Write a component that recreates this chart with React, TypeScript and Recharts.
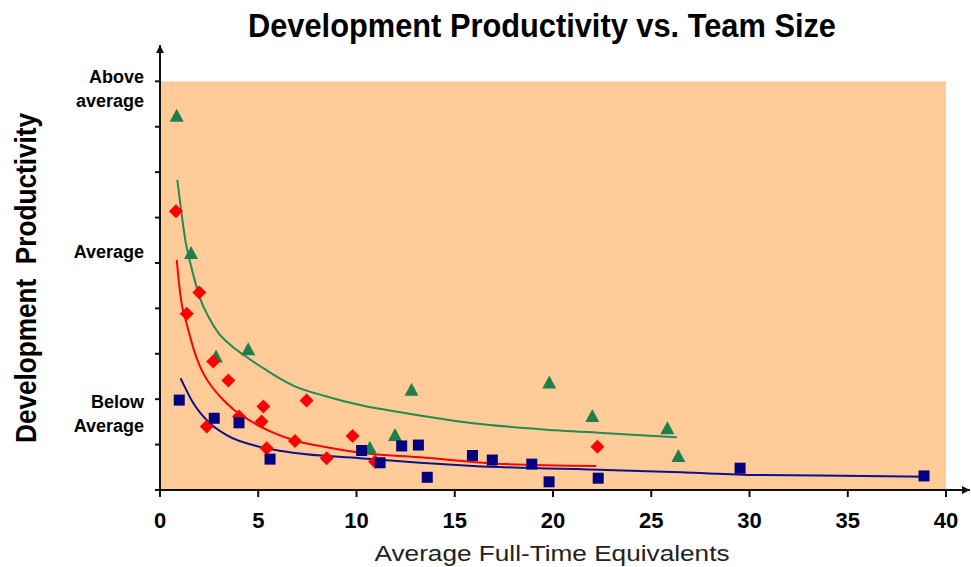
import { ComposedChart, Line, Scatter, XAxis, YAxis, ReferenceArea } from 'recharts';

document.body.style.margin = '0';

// ---- data ----
const greenX = [0.85, 1.58, 2.85, 4.49, 10.68, 11.96, 12.8, 19.81, 22.0, 25.82, 26.38];
const greenY = [8.24, 5.22, 2.94, 3.1, 0.93, 1.21, 2.21, 2.37, 1.63, 1.36, 0.75];

const redX = [0.81, 1.36, 2.0, 2.38, 2.71, 3.48, 4.02, 5.17, 5.26, 5.43, 6.87, 7.46, 8.48, 9.8, 10.94, 22.26];
const redY = [6.14, 3.88, 4.35, 1.4, 2.83, 2.41, 1.62, 1.51, 1.84, 0.92, 1.08, 1.97, 0.7, 1.19, 0.62, 0.95];

const blueX = [0.98, 2.76, 4.02, 5.6, 10.26, 11.2, 12.3, 13.15, 13.6, 15.9, 16.91, 18.92, 19.8, 22.3, 29.52, 38.88];
const blueY = [1.98, 1.58, 1.48, 0.68, 0.87, 0.6, 0.97, 0.99, 0.28, 0.76, 0.66, 0.57, 0.18, 0.26, 0.48, 0.31];

const greenTrendX = [0.88, 1.1, 1.31, 1.53, 1.78, 2.04, 2.46, 2.97, 3.65, 4.33, 5.34, 6.78, 8.48, 10.18, 12.55, 15.94, 19.34, 22.73, 26.3];
const greenTrendY = [6.83, 6.08, 5.45, 5.02, 4.6, 4.22, 3.82, 3.46, 3.17, 2.95, 2.66, 2.3, 2.06, 1.87, 1.69, 1.47, 1.34, 1.25, 1.16];

const redTrendX = [0.85, 0.97, 1.1, 1.31, 1.53, 1.78, 2.12, 2.63, 3.14, 3.73, 4.24, 5.09, 6.78, 8.48, 10.18, 13.23, 17.64, 22.2];
const redTrendY = [5.07, 4.55, 4.11, 3.74, 3.38, 3.01, 2.64, 2.28, 2.02, 1.78, 1.62, 1.4, 1.1, 0.94, 0.82, 0.72, 0.57, 0.53];

const blueTrendX = [1.05, 1.7, 2.54, 3.39, 5.09, 6.78, 10.18, 13.23, 15.94, 22.73, 26.5, 30.4, 35.8, 39.1];
const blueTrendY = [2.46, 1.91, 1.47, 1.21, 0.95, 0.82, 0.7, 0.6, 0.53, 0.44, 0.39, 0.33, 0.31, 0.29];

const xTicks = [0, 5, 10, 15, 20, 25, 30, 35, 40];
const yTicks = [0, 1, 2, 3, 4, 5, 6, 7, 8, 9];
const yLabelValues = [9, 5, 2];
const yLabelTexts = [['Above', 'average'], ['Average'], ['Below', 'Average']];

const title = 'Development Productivity vs. Team Size';
const xTitle = 'Average Full-Time Equivalents';
const yTitle = 'Development  Productivity';

const zip = (xs: number[], ys: number[]) => xs.map((x, i) => ({ x, y: ys[i] }));

const greenPts = zip(greenX, greenY);
const redPts = zip(redX, redY);
const bluePts = zip(blueX, blueY);
const greenTrend = zip(greenTrendX, greenTrendY);
const redTrend = zip(redTrendX, redTrendY);
const blueTrend = zip(blueTrendX, blueTrendY);

const FONT = '"Liberation Sans", Arial, Helvetica, sans-serif';
const AXIS = '#111';
const COLORS = {
  bg: '#FFCC99',
  green: '#1E7E4C',
  greenLine: '#228B55',
  red: '#FF0000',
  blue: '#000080',
  blueLine: '#10108A',
};

// baseline shift of the first line relative to the tick, per tick value
const Y_LABEL_SHIFT: Record<number, number> = { 9: 2, 5: -5, 2: 9 };

function YTick(props: any) {
  const { x, y, payload } = props;
  const idx = yLabelValues.indexOf(payload.value);
  if (idx < 0) return null;
  const lines = yLabelTexts[idx];
  const shift = Y_LABEL_SHIFT[payload.value] ?? 0;
  return (
    <text x={x} y={y + shift} textAnchor="end" fontFamily={FONT} fontWeight="bold" fontSize={18} fill="#000">
      {lines.map((l, i) => (
        <tspan key={i} x={x} dy={i === 0 ? 0 : 23.4}>{l}</tspan>
      ))}
    </text>
  );
}

function XTick(props: any) {
  const { x, y, payload } = props;
  return (
    <text x={x} y={y + 31} textAnchor="middle" fontFamily={FONT} fontWeight="bold" fontSize={22} fill="#000">
      {payload.value}
    </text>
  );
}

const Triangle = (p: any) => (
  <path d={`M${p.cx},${p.cy - 7} L${p.cx + 7},${p.cy + 6} L${p.cx - 7},${p.cy + 6} Z`} fill={COLORS.green} />
);
const Diamond = (p: any) => (
  <path d={`M${p.cx},${p.cy - 7} L${p.cx + 7},${p.cy} L${p.cx},${p.cy + 7} L${p.cx - 7},${p.cy} Z`} fill={COLORS.red} />
);
const Square = (p: any) => (
  <rect x={p.cx - 5.5} y={p.cy - 5.5} width={11} height={11} fill={COLORS.blue} />
);

export default function App() {
  return (
    <div style={{ position: 'relative', width: 971, height: 567, background: '#fff' }}>
      <svg width={0} height={0} style={{ position: 'absolute' }}>
        <defs>
          <marker id="axisArrow" viewBox="0 0 10 10" refX={10} refY={5} markerWidth={10} markerHeight={8}
            markerUnits="userSpaceOnUse" orient="auto-start-reverse">
            <path d="M0,0 L10,5 L0,10 Z" fill={AXIS} />
          </marker>
        </defs>
      </svg>

      <ComposedChart width={971} height={567} margin={{ top: 45, right: 1, left: 0, bottom: 0 }}>
        <ReferenceArea x1={0} x2={40} y1={0} y2={9} fill={COLORS.bg} fillOpacity={1} stroke="none" ifOverflow="hidden" />

        <XAxis
          type="number"
          dataKey="x"
          domain={[0, 41.22]}
          ticks={xTicks}
          interval={0}
          allowDataOverflow
          height={77}
          tickSize={7}
          tickMargin={0}
          axisLine={{ stroke: AXIS, strokeWidth: 2, markerEnd: 'url(#axisArrow)' }}
          tickLine={{ stroke: AXIS, strokeWidth: 2 }}
          tick={<XTick />}
        />
        <YAxis
          type="number"
          dataKey="y"
          domain={[0, 9.8]}
          ticks={yTicks}
          interval={0}
          allowDataOverflow
          width={160}
          tickSize={5}
          tickMargin={11}
          axisLine={{ stroke: AXIS, strokeWidth: 2, markerStart: 'url(#axisArrow)' }}
          tickLine={{ stroke: AXIS, strokeWidth: 2 }}
          tick={<YTick />}
        />

        <Line data={greenTrend} dataKey="y" type="monotone" stroke={COLORS.greenLine} strokeWidth={2} dot={false} isAnimationActive={false} />
        <Line data={redTrend} dataKey="y" type="monotone" stroke={COLORS.red} strokeWidth={2} dot={false} isAnimationActive={false} />
        <Line data={blueTrend} dataKey="y" type="monotone" stroke={COLORS.blueLine} strokeWidth={2} dot={false} isAnimationActive={false} />

        <Scatter data={greenPts} dataKey="y" shape={Triangle} isAnimationActive={false} />
        <Scatter data={redPts} dataKey="y" shape={Diamond} isAnimationActive={false} />
        <Scatter data={bluePts} dataKey="y" shape={Square} isAnimationActive={false} />
      </ComposedChart>

      <svg width={971} height={567} style={{ position: 'absolute', left: 0, top: 0, pointerEvents: 'none' }}>
        <text x={542} y={37} textAnchor="middle" fontFamily={FONT} fontWeight="bold" fontSize={34}
          textLength={588} lengthAdjust="spacingAndGlyphs" fill="#000">{title}</text>
        <text x={552} y={561} textAnchor="middle" fontFamily={FONT} fontSize={22}
          textLength={355} lengthAdjust="spacingAndGlyphs" fill="#222">{xTitle}</text>
        <text transform="translate(36,278) rotate(-90)" textAnchor="middle" fontFamily={FONT} fontWeight="bold"
          fontSize={29} textLength={330} lengthAdjust="spacingAndGlyphs" fill="#000" xmlSpace="preserve">{yTitle}</text>
      </svg>
    </div>
  );
}
